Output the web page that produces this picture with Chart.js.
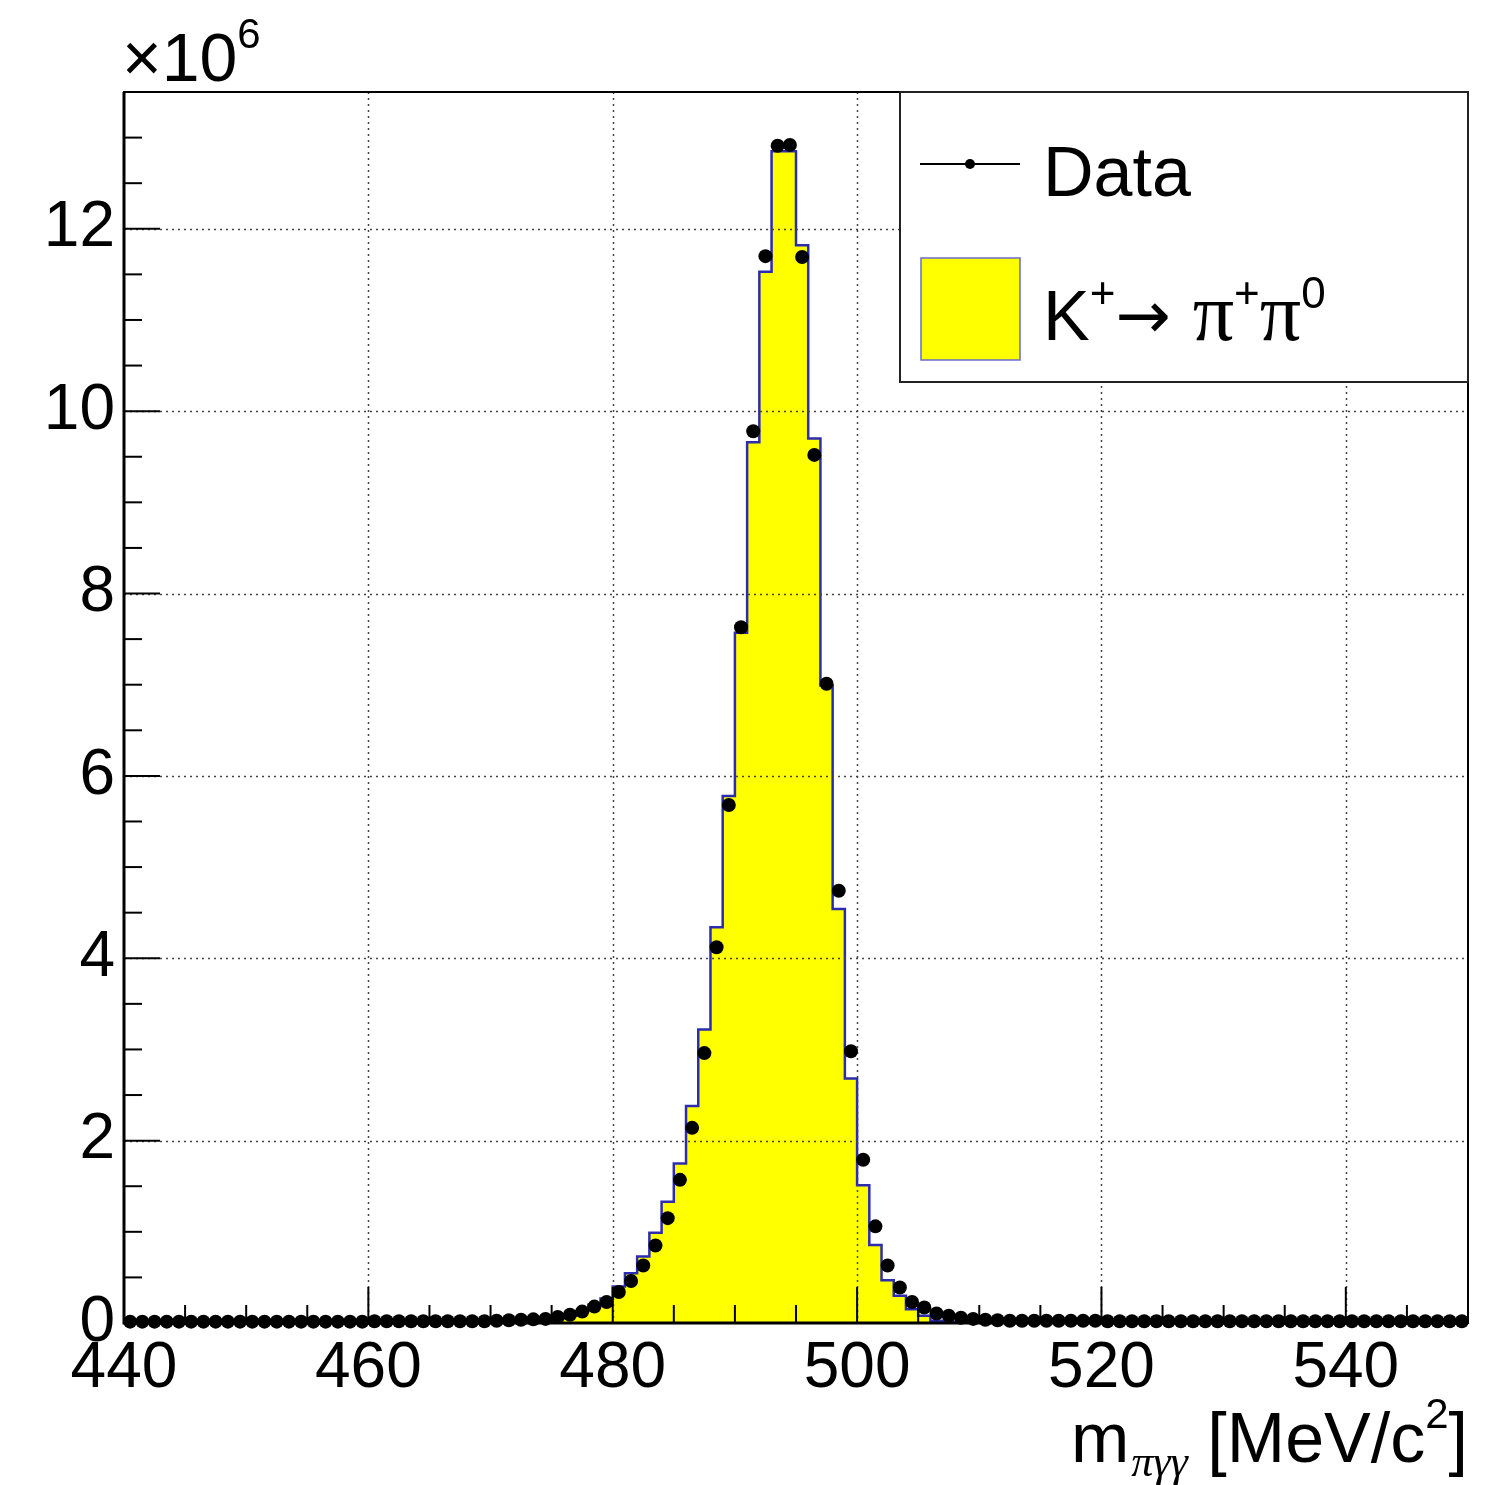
<!DOCTYPE html>
<html>
<head>
<meta charset="utf-8">
<script src="https://cdn.jsdelivr.net/npm/chart.js@4.4.0/dist/chart.umd.min.js"></script>
<style>
  html, body { margin: 0; padding: 0; background: #fff; }
  canvas { display: block; }
</style>
</head>
<body>
<canvas id="chart" width="1496" height="1485"></canvas>
<script>
// bins of m(pi gamma gamma), 1 MeV wide, 440 -> 550
var binLow = 440
var binWidth = 1
var nBins = 110

// data counts per bin (x 10^6)
var dataCounts = [
  0.015, 0.015, 0.015, 0.015, 0.015, 0.015, 0.015, 0.015, 0.015, 0.015,
  0.015, 0.015, 0.015, 0.015, 0.015, 0.015, 0.015, 0.015, 0.015, 0.015,
  0.02, 0.02, 0.02, 0.02, 0.02, 0.02, 0.02, 0.02, 0.02, 0.02,
  0.025, 0.03, 0.035, 0.04, 0.045, 0.065, 0.09, 0.125, 0.18, 0.23,
  0.34, 0.46, 0.63, 0.85, 1.15, 1.57, 2.14, 2.96, 4.12, 5.68,
  7.63, 9.78, 11.70, 12.91, 12.92, 11.69, 9.52, 7.01, 4.74, 2.98,
  1.79, 1.06, 0.63, 0.39, 0.23, 0.17, 0.105, 0.08, 0.058, 0.045,
  0.035, 0.03, 0.025, 0.025, 0.025, 0.025, 0.025, 0.025, 0.025, 0.025,
  0.02, 0.02, 0.02, 0.02, 0.02, 0.02, 0.02, 0.02, 0.02, 0.02,
  0.02, 0.02, 0.02, 0.02, 0.02, 0.02, 0.02, 0.02, 0.02, 0.02,
  0.02, 0.02, 0.02, 0.02, 0.02, 0.02, 0.02, 0.02, 0.02, 0.02
]

// K+ -> pi+ pi0 simulation per bin (x 10^6)
var mcCounts = [
  0.002, 0.002, 0.002, 0.002, 0.002, 0.002, 0.002, 0.002, 0.002, 0.002,
  0.002, 0.002, 0.002, 0.002, 0.002, 0.002, 0.002, 0.002, 0.002, 0.002,
  0.004, 0.004, 0.004, 0.004, 0.004, 0.004, 0.004, 0.004, 0.006, 0.008,
  0.01, 0.014, 0.02, 0.028, 0.04, 0.055, 0.08, 0.13, 0.2, 0.27,
  0.40, 0.545, 0.73, 0.99, 1.33, 1.75, 2.38, 3.22, 4.34, 5.78,
  7.57, 9.66, 11.53, 12.85, 12.85, 11.82, 9.70, 6.99, 4.54, 2.68,
  1.51, 0.855, 0.47, 0.30, 0.15, 0.08, 0.025, 0.015, 0.01, 0.008,
  0.005, 0.005, 0.005, 0.005, 0.005, 0.005, 0.005, 0.005, 0.005, 0.005,
  0.002, 0.002, 0.002, 0.002, 0.002, 0.002, 0.002, 0.002, 0.002, 0.002,
  0.002, 0.002, 0.002, 0.002, 0.002, 0.002, 0.002, 0.002, 0.002, 0.002,
  0.002, 0.002, 0.002, 0.002, 0.002, 0.002, 0.002, 0.002, 0.002, 0.002
]

var xTicks = [440, 460, 480, 500, 520, 540]
var yTicks = [0, 2, 4, 6, 8, 10, 12]
var xRange = [440, 550]
var yRange = [0, 13.5]

var legendLabels = ['Data', 'K+→ π+π0']

// build points
var dataPts = []
var mcPts = []
for (var i = 0; i < nBins; i++) {
  dataPts.push({ x: binLow + (i + 0.5) * binWidth, y: dataCounts[i] })
  mcPts.push({ x: binLow + i * binWidth, y: mcCounts[i] })
}
mcPts.push({ x: binLow + nBins * binWidth, y: mcCounts[nBins - 1] })

var SANS = '"Liberation Sans", Arial, sans-serif'
var SERIF = '"Liberation Serif", "Times New Roman", serif'
var DEJA = '"DejaVu Sans", sans-serif'

function drawRuns(ctx, x, y, runs) {
  // runs: [text, font, dy, extra gap]
  for (var r = 0; r < runs.length; r++) {
    ctx.font = runs[r][1]
    ctx.fillText(runs[r][0], x, y + (runs[r][2] || 0))
    x += ctx.measureText(runs[r][0]).width + (runs[r][3] || 0)
  }
  return x
}

var rootLook = {
  id: 'rootLook',
  afterDatasetDraw: function (chart, args) {
    if (args.meta.label !== 'mc') return
    var ctx = chart.ctx, a = chart.chartArea
    var xs = chart.scales.x, ys = chart.scales.y
    ctx.save()
    ctx.strokeStyle = '#444'
    ctx.lineWidth = 1.5
    ctx.setLineDash([2, 4])
    xTicks.forEach(function (v) {
      if (v <= xRange[0]) return
      var px = Math.round(xs.getPixelForValue(v)) + 0.5
      ctx.beginPath(); ctx.moveTo(px, a.top); ctx.lineTo(px, a.bottom); ctx.stroke()
    })
    yTicks.forEach(function (v) {
      if (v <= yRange[0]) return
      var py = Math.round(ys.getPixelForValue(v)) + 0.5
      ctx.beginPath(); ctx.moveTo(a.left, py); ctx.lineTo(a.right, py); ctx.stroke()
    })
    ctx.restore()
  },
  afterDraw: function (chart) {
    var ctx = chart.ctx, a = chart.chartArea
    var xs = chart.scales.x, ys = chart.scales.y
    ctx.save()
    // frame
    ctx.strokeStyle = '#000'
    ctx.lineWidth = 2
    ctx.strokeRect(a.left, a.top, a.right - a.left, a.bottom - a.top)
    ctx.lineWidth = 3
    ctx.beginPath()
    ctx.moveTo(a.left, a.top); ctx.lineTo(a.left, a.bottom); ctx.lineTo(a.right, a.bottom)
    ctx.stroke()

    // ticks, inward
    ctx.lineWidth = 2
    for (var v = xRange[0]; v <= xRange[1]; v += 5) {
      var px = xs.getPixelForValue(v)
      var len = (v % 20 === 0) ? 36 : 18
      ctx.beginPath(); ctx.moveTo(px, a.bottom); ctx.lineTo(px, a.bottom - len); ctx.stroke()
    }
    for (var w = yRange[0]; w <= yRange[1]; w += 0.5) {
      var py = ys.getPixelForValue(w)
      var len2 = (w % 2 === 0) ? 36 : 18
      ctx.beginPath(); ctx.moveTo(a.left, py); ctx.lineTo(a.left + len2, py); ctx.stroke()
    }

    // x10^6
    ctx.fillStyle = '#000'
    ctx.textBaseline = 'alphabetic'
    ctx.textAlign = 'left'
    drawRuns(ctx, 122, 81, [['×10', '68px ' + SANS], ['6', '42px ' + SANS, -33]])

    // axis title, right aligned to frame
    var runs = [['m', '70px ' + SANS, 0, 2], ['πγγ', 'italic 44px ' + SERIF, 14, 0], [' [MeV/c', '70px ' + SANS],
                ['2', '42px ' + SANS, -34], [']', '70px ' + SANS]]
    var tw = 0
    runs.forEach(function (r) { ctx.font = r[1]; tw += ctx.measureText(r[0]).width + (r[3] || 0) })
    drawRuns(ctx, a.right - tw, 1462, runs)

    // legend
    var L = { l: 900, t: 92, r: 1468, b: 382 }
    ctx.fillStyle = '#fff'
    ctx.fillRect(L.l, L.t, L.r - L.l, L.b - L.t)
    ctx.strokeStyle = '#222'
    ctx.lineWidth = 2
    ctx.strokeRect(L.l, L.t, L.r - L.l, L.b - L.t)
    // data entry
    ctx.strokeStyle = '#000'
    ctx.beginPath(); ctx.moveTo(920, 164); ctx.lineTo(1020, 164); ctx.stroke()
    ctx.fillStyle = '#000'
    ctx.beginPath(); ctx.arc(970, 164, 5, 0, Math.PI * 2); ctx.fill()
    ctx.font = '70px ' + SANS
    ctx.fillText(legendLabels[0], 1043, 196)
    // mc entry
    ctx.fillStyle = '#ffff00'
    ctx.fillRect(921, 258, 99, 102)
    ctx.strokeStyle = '#6a6ad0'
    ctx.lineWidth = 1.5
    ctx.strokeRect(921, 258, 99, 102)
    ctx.fillStyle = '#000'
    drawRuns(ctx, 1043, 340, [['K', '70px ' + SANS], ['+', '44px ' + SANS, -32], ['→', '66px ' + DEJA, -2, 22],
      ['π', '82px ' + SERIF], ['+', '44px ' + SANS, -32], ['π', '82px ' + SERIF], ['0', '44px ' + SANS, -32]])
    ctx.restore()
  }
}

var config = {
  type: 'scatter',
  data: {
    datasets: [
      {
        label: 'data',
        data: dataPts,
        order: 0,
        showLine: false,
        pointRadius: 7,
        pointHoverRadius: 7,
        pointBackgroundColor: '#000',
        pointBorderColor: '#000',
        pointBorderWidth: 0,
        clip: false
      },
      {
        label: 'mc',
        type: 'line',
        data: mcPts,
        order: 1,
        stepped: true,
        fill: 'origin',
        backgroundColor: '#ffff00',
        borderColor: '#2c2cb0',
        borderWidth: 2.5,
        pointRadius: 0,
        tension: 0
      }
    ]
  },
  options: {
    responsive: false,
    animation: false,
    events: [],
    layout: { padding: { top: 92, right: 28, left: 0, bottom: 0 } },
    plugins: { legend: { display: false }, tooltip: { enabled: false } },
    scales: {
      x: {
        type: 'linear',
        min: xRange[0],
        max: xRange[1],
        afterBuildTicks: function (s) { s.ticks = xTicks.map(function (v) { return { value: v } }) },
        afterFit: function (s) { s.height = 162 },
        grid: { display: false, drawTicks: false },
        border: { display: false },
        ticks: {
          autoSkip: false,
          maxRotation: 0,
          padding: 8,
          color: '#000',
          font: { family: SANS, size: 64 }
        }
      },
      y: {
        type: 'linear',
        min: yRange[0],
        max: yRange[1],
        afterBuildTicks: function (s) { s.ticks = yTicks.map(function (v) { return { value: v } }) },
        afterFit: function (s) { s.width = 124 },
        grid: { display: false, drawTicks: false },
        border: { display: false },
        ticks: {
          autoSkip: false,
          padding: 9,
          color: '#000',
          font: { family: SANS, size: 64 }
        }
      }
    }
  },
  plugins: [rootLook]
}

var chart = new Chart(document.getElementById('chart').getContext('2d'), config)
</script>
</body>
</html>
